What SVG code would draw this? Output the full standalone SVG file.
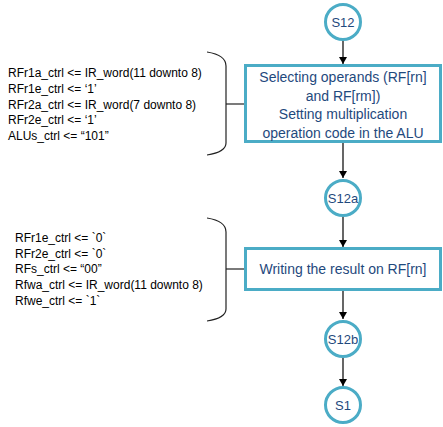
<svg xmlns="http://www.w3.org/2000/svg" width="443" height="427" viewBox="0 0 443 427">
<style>
.st{fill:#fff;stroke:#4BACC6;stroke-width:3}
.lbl{font-family:"Liberation Sans",Arial,sans-serif;font-size:14px;fill:#1F497D;text-anchor:middle}
.cl{font-family:"Liberation Sans",Arial,sans-serif;font-size:13px;fill:#1F497D;text-anchor:middle}
.code{font-family:"Liberation Sans",Arial,sans-serif;font-size:12px;fill:#000}
.con{stroke:#000;stroke-width:1.2;fill:none}
.br{stroke:#222;stroke-width:1.2;fill:none}
</style>
<defs>
<marker id="ah" markerWidth="8" markerHeight="8" refX="7" refY="4" orient="auto" markerUnits="userSpaceOnUse">
<path d="M0,0 L7,4 L0,8 Z" fill="#000"/>
</marker>
</defs>
<g id="connectors">
<line class="con" x1="343" y1="41" x2="343" y2="64" marker-end="url(#ah)"/>
<line class="con" x1="343" y1="143" x2="343" y2="178" marker-end="url(#ah)"/>
<line class="con" x1="343" y1="217" x2="343" y2="247" marker-end="url(#ah)"/>
<line class="con" x1="343" y1="291" x2="343" y2="319" marker-end="url(#ah)"/>
<line class="con" x1="343" y1="358" x2="343" y2="386" marker-end="url(#ah)"/>
<path class="br" d="M207,52 Q226,55 226,66 L226,143 Q226,152 207,155"/>
<line class="br" x1="226" y1="104" x2="245" y2="104"/>
<path class="br" d="M207,218 Q226,221 226,232 L226,309 Q226,318 207,321"/>
<line class="br" x1="226" y1="269" x2="245" y2="269"/>
</g>
<g id="S12">
<circle class="st" cx="343" cy="22" r="17.5"/>
<text class="cl" x="343" y="27">S12</text>
</g>
<g id="box1">
<rect class="st" x="245.5" y="65.5" width="195" height="76"/>
<text class="lbl" x="343" y="82">Selecting operands (RF[rn]</text>
<text class="lbl" x="343" y="101">and RF[rm])</text>
<text class="lbl" x="343" y="119">Setting multiplication</text>
<text class="lbl" x="343" y="138">operation code in the ALU</text>
</g>
<g id="S12a">
<circle class="st" cx="343" cy="198" r="17.5"/>
<text class="cl" x="343" y="203">S12a</text>
</g>
<g id="box2">
<rect class="st" x="245.5" y="248.5" width="195" height="41"/>
<text class="lbl" x="343" y="274">Writing the result on RF[rn]</text>
</g>
<g id="S12b">
<circle class="st" cx="343" cy="339" r="17.5"/>
<text class="cl" x="343" y="344">S12b</text>
</g>
<g id="S1">
<circle class="st" cx="343" cy="405" r="17.5"/>
<text class="cl" x="343" y="410">S1</text>
</g>
<g id="notes1">
<text class="code" x="8" y="77">RFr1a_ctrl &lt;= IR_word(11 downto 8)</text>
<text class="code" x="8" y="93">RFr1e_ctrl &lt;= ‘1’</text>
<text class="code" x="8" y="109">RFr2a_ctrl &lt;= IR_word(7 downto 8)</text>
<text class="code" x="8" y="124">RFr2e_ctrl &lt;= ‘1’</text>
<text class="code" x="8" y="140">ALUs_ctrl &lt;= “101”</text>
</g>
<g id="notes2">
<text class="code" x="15" y="242">RFr1e_ctrl &lt;= `0`</text>
<text class="code" x="15" y="258">RFr2e_ctrl &lt;= `0`</text>
<text class="code" x="15" y="273">RFs_ctrl &lt;= “00”</text>
<text class="code" x="15" y="289">Rfwa_ctrl &lt;= IR_word(11 downto 8)</text>
<text class="code" x="15" y="305">Rfwe_ctrl &lt;= `1`</text>
</g>
</svg>
